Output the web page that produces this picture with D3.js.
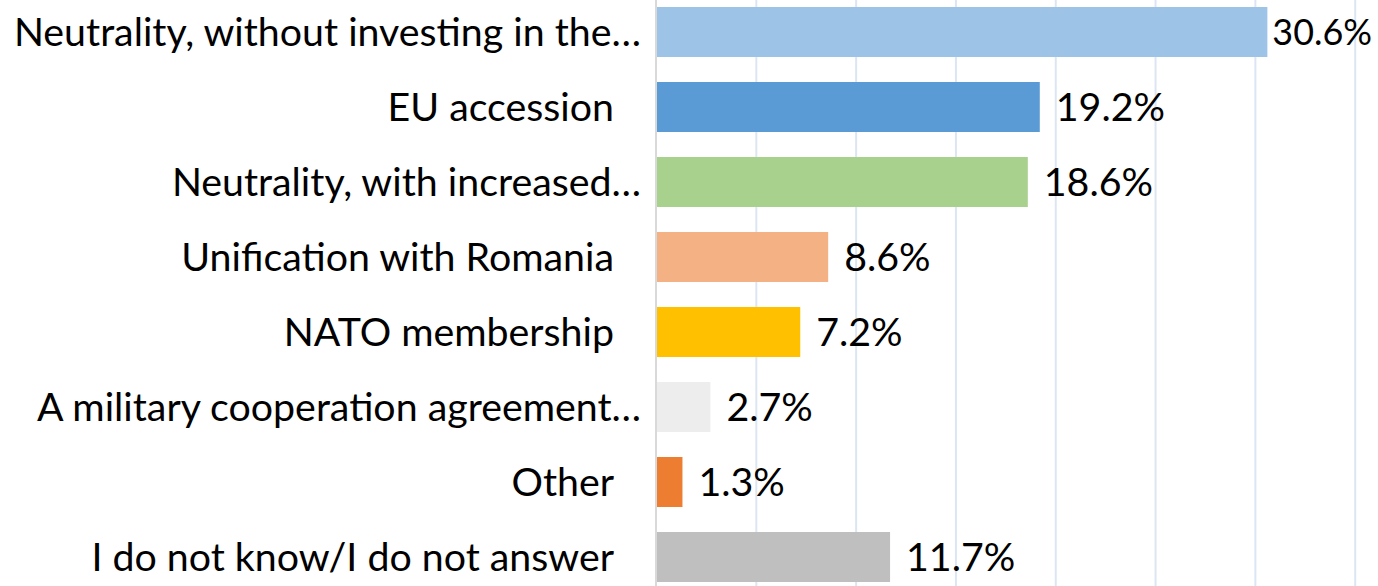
<!DOCTYPE html>
<html>
<head>
<meta charset="utf-8">
<script src="https://cdn.jsdelivr.net/npm/d3@7"></script>
<style>
  html, body { margin: 0; padding: 0; background: #fff; }
  svg { display: block; }
  text { font-family: Lato, "Open Sans", sans-serif; fill: #000; }
</style>
</head>
<body>
<svg id="chart" width="1378" height="586"></svg>
<script>
// Survey answers, top to bottom
const categories = [
  "Neutrality, without investing in the…",
  "EU accession",
  "Neutrality, with increased…",
  "Unification with Romania",
  "NATO membership",
  "A military cooperation agreement…",
  "Other",
  "I do not know/I do not answer"
];
const values = [30.6, 19.2, 18.6, 8.6, 7.2, 2.7, 1.3, 11.7];
const colors = ["#9dc3e6", "#5b9bd5", "#a9d18e", "#f4b183", "#ffc000", "#ededed", "#ed7d31", "#bfbfbf"];
const xTicks = [0, 5, 10, 15, 20, 25, 30, 35];

const W = 1378, H = 586;
const plotLeft = 656.5, plotRight = 1355.2;
const svg = d3.select("#chart");

const x = d3.scaleLinear().domain([0, 35]).range([plotLeft, plotRight]);
const y = d3.scaleBand().domain(categories).range([-5.5, 594.5]).paddingInner(1 / 3).paddingOuter(1 / 6);

// Size the label font so the category text keeps its overall width
const probe = svg.append("text").attr("font-size", 100);
let probeWidth = 0;
[categories[0], categories[1], categories[5], categories[7]].forEach(t => {
  probe.text(t);
  probeWidth += probe.node().getComputedTextLength();
});
probe.remove();
const fontSize = 100 * 1981 / probeWidth;

// vertical gridlines
svg.append("g")
  .selectAll("line")
  .data(xTicks.slice(1))
  .join("line")
  .attr("x1", d => x(d)).attr("x2", d => x(d))
  .attr("y1", 0).attr("y2", H)
  .attr("stroke", "#dce6f2")
  .attr("stroke-width", 2);

// bars
svg.append("g")
  .selectAll("rect")
  .data(values)
  .join("rect")
  .attr("x", x(0))
  .attr("y", (d, i) => y(categories[i]))
  .attr("width", d => x(d) - x(0))
  .attr("height", y.bandwidth())
  .attr("fill", (d, i) => colors[i]);

// category axis line
svg.append("line")
  .attr("x1", x(0) - 0.5).attr("x2", x(0) - 0.5)
  .attr("y1", 0).attr("y2", H)
  .attr("stroke", "#d9d9d9")
  .attr("stroke-width", 2);

// category labels
svg.append("g")
  .selectAll("text")
  .data(categories)
  .join("text")
  .attr("x", d => d.endsWith("…") ? 641 : 614)
  .attr("y", d => y(d) + y.bandwidth() / 2)
  .attr("dy", "0.36em")
  .attr("text-anchor", "end")
  .attr("font-size", fontSize)
  .text(d => d);

// value labels; a label that would run past the right edge is pulled in next to its bar
const vl = svg.append("g")
  .selectAll("text")
  .data(values)
  .join("text")
  .attr("y", (d, i) => y(categories[i]) + y.bandwidth() / 2)
  .attr("dy", "0.36em")
  .attr("font-size", fontSize)
  .text(d => d.toFixed(1) + "%");
vl.each(function (d) {
  const sel = d3.select(this);
  let w = this.getComputedTextLength();
  let left = x(d) + 16;
  if (left + w > W - 6) {
    left = x(d) + 5;
    const room = W - 6 - left;
    if (w > room) {
      sel.attr("font-size", fontSize * room / w);
    }
  }
  sel.attr("x", left);
});
</script>
</body>
</html>
